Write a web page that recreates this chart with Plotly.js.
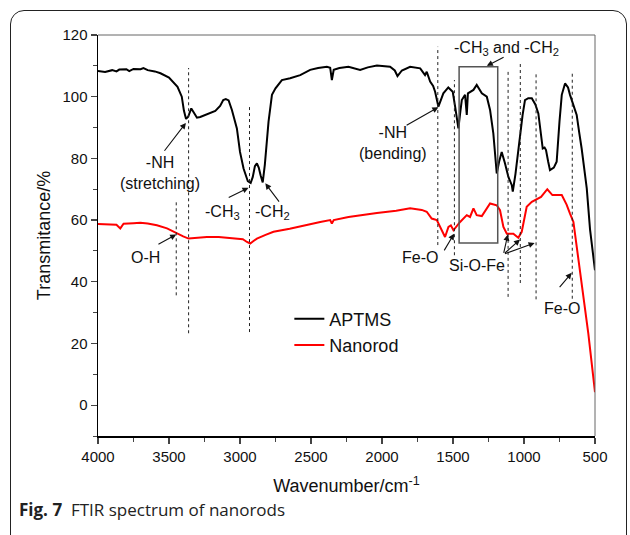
<!DOCTYPE html>
<html>
<head>
<meta charset="utf-8">
<script src="https://cdn.plot.ly/plotly-3.0.1.min.js"></script>
<style>
  html, body { margin: 0; padding: 0; background: #fff; }
  #wrap { position: relative; width: 630px; height: 535px; overflow: hidden; }
  #chart { width: 630px; height: 535px; }
  #frame { position: absolute; left: 10px; top: 10px; width: 617px; height: 540px;
           border: 1.3px solid #222; border-radius: 14px; box-sizing: border-box; pointer-events: none; }
</style>
</head>
<body>
<div id="wrap">
  <div id="chart"></div>
  <div id="frame"></div>
</div>
<script>
// ---- Data ----
const aptmsWn = [4000,3950,3900,3870,3850,3800,3780,3750,3700,3680,3650,3620,3600,3560,3500,3440,3410,3395,3380,3365,3343,3320,3303,3280,3245,3200,3174,3140,3118,3100,3080,3057,3040,3022,3000,2975,2945,2925,2910,2895,2881,2868,2855,2840,2825,2810,2799,2775,2750,2705,2647,2576,2506,2450,2388,2365,2353,2340,2300,2236,2154,2100,2036,1943,1910,1891,1860,1802,1731,1697,1685,1661,1640,1626,1603,1585,1568,1533,1502,1485,1470,1462,1450,1438,1415,1403,1395,1356,1333,1315,1297,1262,1239,1216,1192,1175,1157,1134,1110,1086,1079,1060,1040,1028,1010,993,970,945,920,899,880,868,855,845,830,817,790,770,750,734,711,690,676,665,645,629,610,594,558,535,500];
const aptmsT  = [108.3,108.0,108.6,108.2,108.8,108.9,108.3,109.0,108.9,109.3,108.6,108.4,108.2,107.6,106.2,103.2,100.0,95.5,92.8,93.5,96.2,94.5,93.2,93.4,94.1,95.0,95.4,97.0,98.9,99.2,98.8,95.7,93.0,89.7,82.1,76.7,72.6,72.0,74.0,77.5,78.4,77.0,74.5,72.2,78.0,88.0,91.9,100.6,102.7,105.4,106.0,107.0,108.7,109.3,109.7,109.4,105.4,108.7,109.3,109.7,108.7,109.5,110.1,109.7,108.5,106.7,108.5,109.7,109.2,107.0,108.1,104.9,103.5,101.6,96.8,99.0,101.1,103.0,101.6,96.8,92.0,89.7,94.5,98.9,100.6,94.1,101.1,102.2,103.8,102.5,101.1,100.0,95.7,88.1,75.1,79.0,82.1,78.4,74.0,71.3,69.2,75.0,83.0,87.6,94.0,98.9,99.5,99.5,97.5,94.6,88.0,83.2,83.5,82.7,79.0,76.2,77.0,78.9,92.0,100.6,104.3,103.0,100.6,98.9,96.0,94.1,88.0,83.2,70.3,57.0,43.7];

const nanoWn = [4000,3913,3870,3843,3820,3750,3702,3650,3585,3514,3444,3400,3362,3300,3233,3150,3046,2980,2951,2928,2905,2881,2820,2764,2650,2576,2435,2365,2353,2340,2236,2036,1900,1802,1720,1685,1650,1614,1579,1556,1532,1515,1497,1450,1403,1380,1356,1333,1297,1239,1192,1169,1145,1121,1075,1040,1016,981,945,922,880,836,800,734,700,676,652,641,594,547,500];
const nanoT  = [58.7,58.7,58.5,57.3,58.8,59.0,59.1,58.9,58.3,57.3,55.6,54.7,54.0,54.3,54.5,54.5,54.2,53.8,52.9,52.4,53.2,54.0,55.2,56.2,57.2,58.0,59.4,60.0,58.9,60.0,61.0,62.3,63.0,63.8,63.3,62.7,60.5,60.0,56.7,54.5,57.8,58.3,56.7,59.4,61.6,61.0,63.8,61.6,61.3,65.4,64.8,63.2,57.8,55.6,55.6,54.3,56.2,64.3,65.9,66.5,67.5,70.0,68.1,68.1,65.0,62.1,59.4,55.6,39.4,23.2,4.2];

const seriesNames = ["APTMS", "Nanorod"];
const xTickVals = [4000,3500,3000,2500,2000,1500,1000,500];
const yTickVals = [0,20,40,60,80,100,120];

// ---- Marked bands (dotted guide lines): wavenumber, bottom, top ----
const guideWn  = [3449, 3362, 2933, 1607, 1490, 1112, 1026, 915, 660];
const guideLo  = [35.6, 23.3, 23.7, 51.9, 48.6, 35.1, 39.6, 34.3, 34.5];
const guideHi  = [66.5, 109.3, 97.3, 116.2, 105.4, 108.1, 111.4, 107.6, 108.4];

const FONT = "'Liberation Sans', Arial, Helvetica, sans-serif";

const traces = [
  { x: aptmsWn, y: aptmsT, name: seriesNames[0], type: 'scatter', mode: 'lines',
    line: { color: '#000000', width: 2 } },
  { x: nanoWn, y: nanoT, name: seriesNames[1], type: 'scatter', mode: 'lines',
    line: { color: '#ff0000', width: 2 } }
];

const shapes = [];
for (let i = 0; i < guideWn.length; i++) {
  shapes.push({ type: 'line', xref: 'x', yref: 'y', x0: guideWn[i], x1: guideWn[i],
    y0: guideLo[i], y1: guideHi[i], line: { color: '#222', width: 1, dash: 'dot' } });
}
// box around the -CH3/-CH2 band
shapes.push({ type: 'rect', xref: 'x', yref: 'y', x0: 1457, x1: 1185, y0: 52.6, y1: 109.7,
  line: { color: '#555', width: 1.5 } });
// top & right frame lines
shapes.push({ type: 'line', xref: 'paper', yref: 'paper', x0: 0, x1: 1, y0: 1, y1: 1, line: { color: '#666', width: 1 } });
shapes.push({ type: 'line', xref: 'paper', yref: 'paper', x0: 1, x1: 1, y0: 0, y1: 1, line: { color: '#666', width: 1 } });

function label(text, x, y, extra) {
  return Object.assign({ text: text, x: x, y: y, xref: 'x', yref: 'y', showarrow: false,
    font: { family: FONT, size: 16, color: '#111' }, xanchor: 'center', yanchor: 'middle' }, extra || {});
}
function arrow(tx, ty, hx, hy) {
  return { text: '', x: hx, y: hy, ax: tx, ay: ty, xref: 'x', yref: 'y', axref: 'x', ayref: 'y',
    showarrow: true, arrowhead: 2, arrowsize: 1.1, arrowwidth: 1.1, arrowcolor: '#111', standoff: 0, startstandoff: 0 };
}

const annotations = [
  label('-NH<br>(stretching)', 3561, 75.2),
  arrow(3540, 82, 3381, 91.5),
  label('-CH<sub>3</sub>', 3125, 62.3),
  arrow(3090, 67.1, 2940, 70.5),
  label('-CH<sub>2</sub>', 2773, 62.3),
  arrow(2717, 65.5, 2822, 71.9),
  label('O-H', 3667, 48.0),
  arrow(3585, 51.9, 3449, 55.3),
  label('-NH<br>(bending)', 1922, 84.9),
  arrow(1837, 90.5, 1603, 96.6),
  label('-CH<sub>3</sub> and -CH<sub>2</sub>', 1121, 115.6),
  arrow(1133, 113, 1262, 110),
  label('Fe-O', 1731, 47.9),
  arrow(1568, 49.7, 1492, 55.6),
  label('Si-O-Fe', 1333, 45.4),
  arrow(1145, 48.9, 1114, 55.3),
  arrow(1145, 48.9, 1028, 53.7),
  arrow(1145, 48.9, 925, 52.6),
  label('Fe-O', 734, 31.3),
  arrow(758, 37.8, 664, 42.9),
  { text: '<b>Fig. 7</b>  FTIR spectrum of nanorods', xref: 'paper', yref: 'paper',
    x: -0.162, y: -0.183, xanchor: 'left', yanchor: 'middle', showarrow: false,
    font: { family: "'Open Sans', 'Noto Sans', sans-serif", size: 17, color: '#222' } }
];

const layout = {
  width: 630, height: 535,
  margin: { l: 98, r: 35, t: 35, b: 99 },
  paper_bgcolor: '#ffffff', plot_bgcolor: '#ffffff',
  font: { family: FONT, size: 15, color: '#111' },
  showlegend: true,
  legend: { x: 0.385, y: 0.338, xanchor: 'left', yanchor: 'top', bgcolor: 'rgba(0,0,0,0)',
    font: { family: FONT, size: 18, color: '#111' }, tracegroupgap: 0 },
  xaxis: {
    range: [4000, 500], tickvals: xTickVals, ticks: 'outside', ticklen: 6, tickwidth: 1.3,
    showline: true, linecolor: '#000', linewidth: 1.5, showgrid: false, zeroline: false,
    tickfont: { family: FONT, size: 15, color: '#111' },
    minor: { dtick: 250, ticks: 'outside', ticklen: 4, tickwidth: 1, showgrid: false },
    title: { text: 'Wavenumber/cm<sup>-1</sup>', font: { family: FONT, size: 18, color: '#111' }, standoff: 16 }
  },
  yaxis: {
    range: [-10, 120], tickvals: yTickVals, ticks: 'outside', ticklen: 6, tickwidth: 1.3,
    showline: true, linecolor: '#000', linewidth: 1.5, showgrid: false, zeroline: false,
    tickfont: { family: FONT, size: 15, color: '#111' },
    minor: { dtick: 10, ticks: 'outside', ticklen: 4, tickwidth: 1, showgrid: false },
    title: { text: 'Transmitance/%', font: { family: FONT, size: 18, color: '#111' }, standoff: 7 }
  },
  shapes: shapes,
  annotations: annotations
};

Plotly.newPlot('chart', traces, layout, { displayModeBar: false, staticPlot: true });
</script>
</body>
</html>
